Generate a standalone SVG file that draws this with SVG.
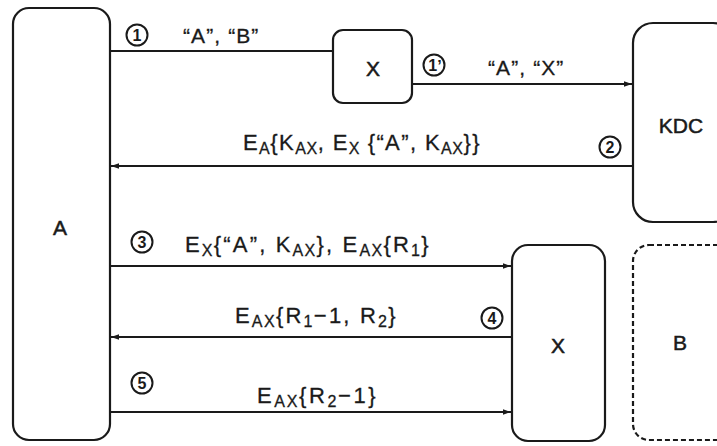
<svg xmlns="http://www.w3.org/2000/svg" width="717" height="446" viewBox="0 0 717 446">
<style>
.box{fill:#fff;stroke:#1a1a1a;stroke-width:2.2}
.dash{fill:#fff;stroke:#1a1a1a;stroke-width:2.2;stroke-dasharray:5 3}
.ln{fill:none;stroke:#1a1a1a;stroke-width:2}
.t{font-family:"Liberation Sans",Arial,sans-serif;font-size:21px;letter-spacing:1.1px;fill:#1a1a1a;stroke:#1a1a1a;stroke-width:0.3}
.m{font-size:22px;letter-spacing:1.4px}
.n{font-family:"Liberation Sans",Arial,sans-serif;font-size:21px;fill:#1a1a1a;text-anchor:middle;stroke:#1a1a1a;stroke-width:0.5}
.c{fill:none;stroke:#1a1a1a;stroke-width:2}
.cn{font-family:"Liberation Sans",Arial,sans-serif;font-size:16px;font-weight:bold;fill:#1a1a1a;text-anchor:middle}
.s{font-size:16px;letter-spacing:0.6px}
</style>
<defs>
<marker id="ah" viewBox="0 0 10 10" refX="10" refY="5" markerWidth="8" markerHeight="8" markerUnits="userSpaceOnUse" orient="auto">
<path d="M0,1.5 L10,5 L0,8.5 z" fill="#1a1a1a"/>
</marker>
</defs>
<rect width="717" height="446" fill="#fff"/>
<g id="connectors">
<line class="ln" x1="110" y1="51" x2="333" y2="51"/>
<line class="ln" x1="412" y1="84" x2="632" y2="84" marker-end="url(#ah)"/>
<line class="ln" x1="633" y1="166" x2="111" y2="166" marker-end="url(#ah)"/>
<line class="ln" x1="110" y1="266" x2="511" y2="266" marker-end="url(#ah)"/>
<line class="ln" x1="512" y1="337" x2="111" y2="337" marker-end="url(#ah)"/>
<line class="ln" x1="110" y1="412" x2="511" y2="412" marker-end="url(#ah)"/>
</g>
<g id="node-A">
<rect class="box" x="13" y="8" width="97" height="432" rx="16"/>
<text class="n" x="60" y="235">A</text>
</g>
<g id="node-X1">
<rect class="box" x="333" y="30" width="79" height="73" rx="10"/>
<text class="n" x="373" y="76">X</text>
</g>
<g id="node-KDC">
<rect class="box" x="633" y="23" width="100" height="199" rx="20"/>
<text class="n" x="681" y="133">KDC</text>
</g>
<g id="node-X2">
<rect class="box" x="512" y="245" width="93" height="196" rx="16"/>
<text class="n" x="558" y="353">X</text>
</g>
<g id="node-B">
<rect class="dash" x="633" y="245" width="100" height="195" rx="16"/>
<text class="n" x="680" y="350">B</text>
</g>
<g id="labels">
<circle class="c" cx="137" cy="35" r="10.5"/><text class="cn" x="137" y="40.5">1</text>
<text class="t" x="183" y="43">“A”, “B”</text>
<circle class="c" cx="434" cy="65" r="10.5"/><text class="cn" x="435" y="70.5">1ʼ</text>
<text class="t" x="488" y="75">“A”, “X”</text>
<circle class="c" cx="610" cy="147" r="10.5"/><text class="cn" x="610" y="152.5">2</text>
<text class="t m" x="243" y="150">E<tspan class="s" dy="4">A</tspan><tspan dy="-4">{K</tspan><tspan class="s" dy="4">AX</tspan><tspan dy="-4">, E</tspan><tspan class="s" dy="4">X</tspan><tspan dy="-4"> {“A”, K</tspan><tspan class="s" dy="4">AX</tspan><tspan dy="-4">}}</tspan></text>
<circle class="c" cx="142" cy="242" r="10.5"/><text class="cn" x="142" y="247.5">3</text>
<text class="t m" x="185" y="252" textLength="245" lengthAdjust="spacing">E<tspan class="s" dy="4">X</tspan><tspan dy="-4">{“A”, K</tspan><tspan class="s" dy="4">AX</tspan><tspan dy="-4">}, E</tspan><tspan class="s" dy="4">AX</tspan><tspan dy="-4">{R</tspan><tspan class="s" dy="4">1</tspan><tspan dy="-4">}</tspan></text>
<circle class="c" cx="492" cy="318" r="10.5"/><text class="cn" x="492" y="323.5">4</text>
<text class="t m" x="235" y="323" textLength="162" lengthAdjust="spacing">E<tspan class="s" dy="4">AX</tspan><tspan dy="-4">{R</tspan><tspan class="s" dy="4">1</tspan><tspan dy="-4">−1, R</tspan><tspan class="s" dy="4">2</tspan><tspan dy="-4">}</tspan></text>
<circle class="c" cx="142" cy="383" r="10.5"/><text class="cn" x="142" y="388.5">5</text>
<text class="t m" x="257" y="403" textLength="120" lengthAdjust="spacing">E<tspan class="s" dy="4">AX</tspan><tspan dy="-4">{R</tspan><tspan class="s" dy="4">2</tspan><tspan dy="-4">−1}</tspan></text>
</g>
</svg>
